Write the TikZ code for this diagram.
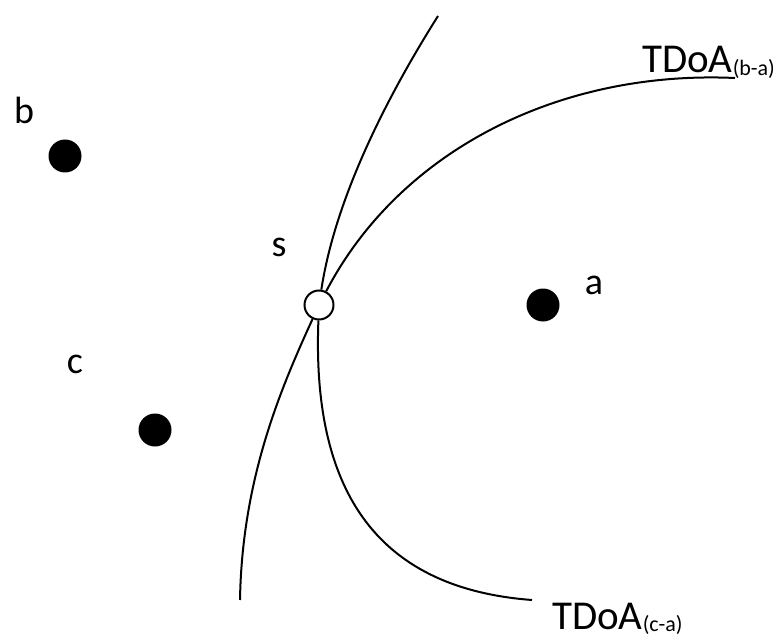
\documentclass[tikz,border=0pt]{standalone}
\usepackage{fontspec}
\setmainfont{Carlito}
\usetikzlibrary{positioning}
\newcommand{\subtxt}[1]{\raisebox{-0.05em}{\fontsize{22}{24}\selectfont #1}}

\begin{document}
\begin{tikzpicture}[x=1pt,y=-1pt,
    station/.style={circle,fill=black,minimum size=33pt,inner sep=0pt},
    source/.style={circle,draw=black,fill=white,line width=2pt,minimum size=29pt,inner sep=0pt},
    lbl/.style={font=\fontsize{38}{42}\selectfont,inner sep=0pt},
    tdoa/.style={font=\fontsize{41}{44}\selectfont,inner sep=0pt,anchor=base west},
    hyp/.style={line width=2pt}]
  \useasboundingbox (0,0) rectangle (776,639);
  % receivers
  \node[station] (b) at (65,156) {};
  \node[station] (c) at (155,430) {};
  \node[station] (a) at (543,305) {};
  \node[lbl] (lb) at (24,110) {b};
  \node[lbl] (lc) at (75,364) {c};
  \node[lbl] (la) at (594,285) {a};
  % emitter
  \node[source] (s) at (319,305) {};
  \node[lbl] (ls) at (279,247) {s};
  % curve ends
  \coordinate (top end) at (438,16);
  \coordinate (bottom end) at (240,600);
  \coordinate (ba end) at (735,78);
  \coordinate (ca end) at (532,600);
  \draw[hyp] (top end) .. controls (385,100) and (335,200) .. (s);
  \draw[hyp] (s) .. controls (280,390) and (242,480) .. (bottom end);
  \draw[hyp] (ba end) .. controls (560,70) and (400,150) .. (s);
  \draw[hyp] (s) .. controls (312,485) and (372,588) .. (ca end);
  % labels
  \node[tdoa] (tba) at (642,73) {TDoA\subtxt{(b-a)}};
  \node[tdoa] (tca) at (552,629) {TDoA\subtxt{(c-a)}};
\end{tikzpicture}
\end{document}
